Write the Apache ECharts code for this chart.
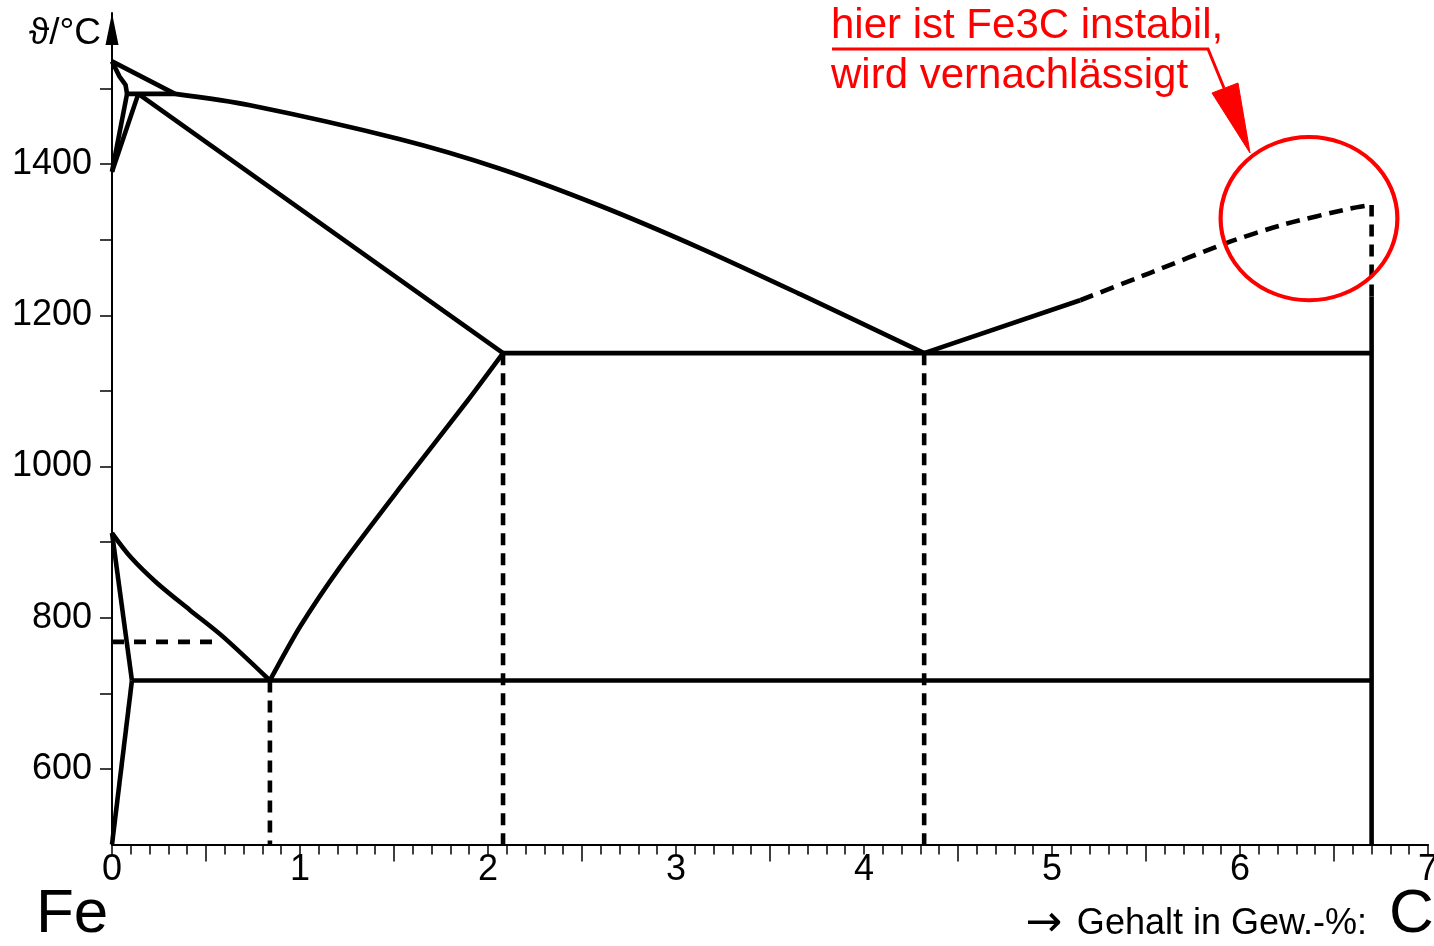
<!DOCTYPE html>
<html>
<head>
<meta charset="utf-8">
<script src="https://cdn.jsdelivr.net/npm/echarts@6/dist/echarts.min.js"></script>
<style>
html,body{margin:0;padding:0;background:#fff;}
#chart{width:1434px;height:946px;}
</style>
</head>
<body>
<div id="chart"></div>
<script>
// ---- axis values ----
const xLabelValues = [0, 1, 2, 3, 4, 5, 6, 7];
const xHalfTicks = [0.5, 1.5, 2.5, 3.5, 4.5, 5.5, 6.5];
const yLabelValues = [600, 800, 1000, 1200, 1400];
const yTickValues = [600, 700, 800, 900, 1000, 1100, 1200, 1300, 1400, 1500];

// ---- phase boundary lines  [C wt-%, temperature °C] ----
const lineAB = [[0, 1536], [0.335, 1493]];
const lineAH = [[0, 1536], [0.04, 1516], [0.072, 1505], [0.08, 1493]];
const peritectic = [[0.08, 1493], [0.335, 1493]];
const lineNH = [[0, 1390], [0.08, 1493]];
const lineNJ = [[0, 1390], [0.14, 1493]];
const liquidusBC = [[0.335, 1493], [0.734, 1478], [1.532, 1433], [2.064, 1394], [2.596, 1345], [3.128, 1289], [3.66, 1228], [4.32, 1150]];
const solidusJE = [[0.14, 1493], [2.08, 1150]];
const lineGS = [[0, 912], [0.1, 880], [0.239, 846], [0.415, 810], [0.59, 775], [0.84, 717]];
const lineGP = [[0, 912], [0.106, 717]];
const linePQ = [[0.106, 717], [0, 500]];
const curie = [[0, 768], [0.54, 768]];
const lineSE = [[0.84, 717], [1.0, 788], [1.213, 867], [1.532, 972], [1.894, 1088], [2.08, 1150]];
const eutectoid = [[0.106, 717], [6.7, 717]];
const eutectic = [[2.08, 1150], [6.7, 1150]];
const vertS = [[0.84, 717], [0.84, 500]];
const vertE = [[2.08, 1150], [2.08, 500]];
const vertC = [[4.32, 1150], [4.32, 500]];
const fe3cSolid = [[6.7, 500], [6.7, 1225]];
const fe3cDashed = [[6.7, 1225], [6.7, 1346]];
const liquidusCDsolid = [[4.32, 1150], [5.15, 1220]];
const liquidusCDdashed = [[5.15, 1220], [5.52, 1256], [5.93, 1296], [6.23, 1320], [6.58, 1341], [6.7, 1346]];

// annotation anchor (data coords)
const circleCenter = [6.367, 1328];

const FONT = '"Liberation Sans", Arial, sans-serif';

function ln(data, opt) {
  opt = opt || {};
  return {
    type: 'line',
    data: data,
    xAxisIndex: 0, yAxisIndex: 0,
    symbol: 'none',
    smooth: opt.smooth || false,
    animation: false,
    silent: true,
    z: 5,
    lineStyle: {
      color: '#000',
      width: opt.width || 4.6,
      type: opt.dash || 'solid',
      cap: 'butt',
      join: 'miter'
    }
  };
}

const chart = echarts.init(document.getElementById('chart'), null, {renderer: 'canvas'});

const gridBox = {left: 112, right: 6, top: 13, bottom: 101.5, containLabel: false, outerBoundsMode: 'none'};

const option = {
  backgroundColor: '#fff',
  animation: false,
  grid: [Object.assign({}, gridBox), Object.assign({}, gridBox)],
  xAxis: [
    {
      type: 'value', gridIndex: 0, min: 0, max: 7, interval: 1,
      axisLine: {show: true, onZero: false, lineStyle: {color: '#000', width: 2}},
      axisTick: {show: true, length: 10, lineStyle: {color: '#000', width: 1.5}},
      minorTick: {show: true, splitNumber: 10, length: 10, lineStyle: {color: '#000', width: 1.5}},
      axisLabel: {
        show: true, margin: 8, color: '#000', fontSize: 36, fontFamily: FONT,
        customValues: xLabelValues, showMinLabel: true, showMaxLabel: true,
        formatter: v => String(v)
      },
      splitLine: {show: false}
    },
    {
      type: 'value', gridIndex: 1, min: 0, max: 7, interval: 1,
      axisLine: {show: false, onZero: false},
      axisTick: {show: true, length: 17, customValues: xHalfTicks, lineStyle: {color: '#000', width: 1.5}},
      axisLabel: {show: false},
      splitLine: {show: false}
    }
  ],
  yAxis: [
    {
      type: 'value', gridIndex: 0, min: 500, max: 1600, interval: 100,
      axisLine: {show: true, onZero: false, symbol: ['none', 'triangle'], symbolSize: [13, 32], symbolOffset: [0, -16],
        lineStyle: {color: '#000', width: 2}},
      axisTick: {show: true, length: 12, customValues: yTickValues, lineStyle: {color: '#000', width: 1.5}},
      axisLabel: {show: true, margin: 20, color: '#000', fontSize: 36, fontFamily: FONT, customValues: yLabelValues,
        formatter: v => String(v)},
      splitLine: {show: false}
    },
    {
      type: 'value', gridIndex: 1, min: 500, max: 1600, show: false,
      axisLine: {show: false}, axisTick: {show: false}, axisLabel: {show: false}, splitLine: {show: false}
    }
  ],
  series: [
    ln(lineAB),
    ln(lineAH),
    ln(peritectic),
    ln(lineNH),
    ln(lineNJ),
    ln(liquidusBC, {smooth: 0.3}),
    ln(solidusJE),
    ln(lineGS, {smooth: 0.3}),
    ln(lineGP),
    ln(linePQ),
    ln(curie, {dash: [12, 10]}),
    ln(lineSE, {smooth: 0.25}),
    ln(eutectoid),
    ln(eutectic),
    ln(vertS, {dash: [12, 8]}),
    ln(vertE, {dash: [12, 8]}),
    ln(vertC, {dash: [12, 8]}),
    ln(fe3cSolid),
    ln(fe3cDashed, {dash: [12, 8]}),
    ln(liquidusCDsolid),
    ln(liquidusCDdashed, {smooth: 0.25, dash: [14, 8]})
  ]
};
chart.setOption(option);

const cc = chart.convertToPixel({gridIndex: 0}, circleCenter);

function txt(text, x, y, size, color, align, family) {
  return {
    type: 'text', silent: true, z: 10,
    style: {
      text: text, x: x, y: y, font: size + 'px ' + (family || FONT), fill: color,
      align: align, textAlign: align, verticalAlign: 'middle', textVerticalAlign: 'middle'
    }
  };
}

chart.setOption({
  graphic: [
    txt('ϑ/°C', 101, 34, 37, '#000', 'right'),
    txt('Fe', 36, 915, 62, '#000', 'left'),
    txt('→', 1062, 925, 44, '#000', 'right', '"DejaVu Sans", sans-serif'),
    txt('Gehalt in Gew.-%:', 1367, 924, 36, '#000', 'right'),
    txt('C', 1389, 915, 62, '#000', 'left'),
    txt('hier ist Fe3C instabil,', 831, 26, 42, '#ff0000', 'left'),
    txt('wird vernachlässigt', 831, 76, 42, '#ff0000', 'left'),
    {
      type: 'polyline', silent: true, z: 10,
      shape: {points: [[832, 49], [1208, 49], [1224, 88]]},
      style: {stroke: '#ff0000', lineWidth: 3, fill: null}
    },
    {
      type: 'polygon', silent: true, z: 10,
      shape: {points: [[1212, 93], [1238, 83], [1250, 153]]},
      style: {fill: '#ff0000', stroke: '#ff0000', lineWidth: 1}
    },
    {
      type: 'circle', silent: true, z: 10,
      x: cc[0], y: cc[1], scaleX: 1.04, scaleY: 0.96,
      shape: {cx: 0, cy: 0, r: 85},
      style: {fill: null, stroke: '#ff0000', lineWidth: 4}
    }
  ]
});
</script>
</body>
</html>
